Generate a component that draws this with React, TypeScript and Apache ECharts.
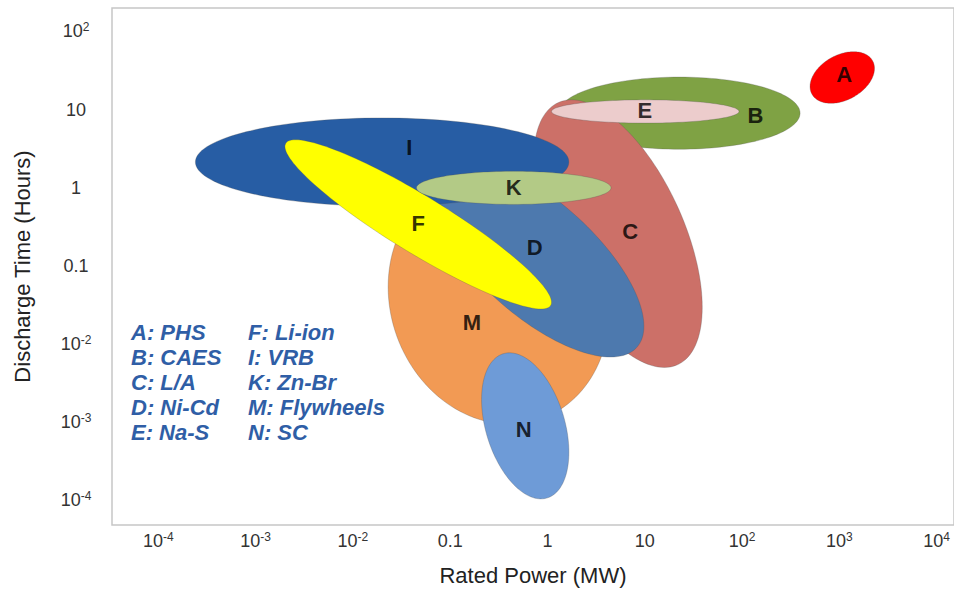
import React, { useEffect, useRef } from "react";
import * as echarts from "echarts";

// Technologies (A..N) and their ranges: rated power (MW) and discharge time (hours)
const techCodes = ["A", "B", "C", "D", "E", "F", "I", "K", "M", "N"];
const techNames = ["PHS", "CAES", "L/A", "Ni-Cd", "Na-S", "Li-ion", "VRB", "Zn-Br", "Flywheels", "SC"];
const powerMinMW = [500, 1.3, 0.72, 0.06, 1.1, 0.002, 0.00024, 0.045, 0.023, 0.21];
const powerMaxMW = [2300, 395, 39, 9.8, 93, 1.1, 1.66, 4.5, 4.3, 1.66];
const timeMinH = [12, 3.1, 0.005, 0.0068, 6.7, 0.028, 0.58, 0.61, 0.00094, 0.000104];
const timeMaxH = [55, 26, 13.3, 2.4, 13.3, 4.1, 7.8, 1.62, 1.47, 0.0077];
// correlation between log power and log time inside each region (ellipse tilt)
const tilt = [0.35, 0, -0.55, -0.69, 0, -0.92, 0, 0, -0.1, -0.36];
const techColors = ["#FF0000", "#7FA244", "#CC7068", "#4D79AE", "#ECCCCC", "#FFFF00", "#275DA4", "#B3CA86", "#F29A54", "#6E9BD7"];
const labelPowerMW = [1125, 137, 7.1, 0.74, 10, 0.047, 0.038, 0.45, 0.167, 0.57];
const labelTimeH = [27.7, 8.3, 0.277, 0.171, 9.6, 0.347, 3.24, 1, 0.019, 0.00081];
const drawOrder = ["B", "C", "M", "D", "I", "F", "K", "E", "N", "A"];

const xTickExponents = [-4, -3, -2, -1, 0, 1, 2, 3, 4];
const yTickExponents = [-4, -3, -2, -1, 0, 1, 2];
const xLogMin = -4.477;
const xLogMax = 4.179;
const yLogMin = -4.317;
const yLogMax = 2.299;

const FONT = "'Liberation Sans', Arial, Helvetica, sans-serif";

function tickFormatter(v: number): string {
  const e = Math.round(v);
  if (e === -1) return "{b|0.1}";
  if (e === 0) return "{b|1}";
  if (e === 1) return "{b|10}";
  return "{b|10}{s|" + e + "}";
}

const richLabel = {
  b: { fontSize: 18, lineHeight: 20, color: "#333", fontFamily: FONT },
  s: { fontSize: 12, lineHeight: 12, color: "#333", fontFamily: FONT, verticalAlign: "top" },
};

export default function App() {
  const ref = useRef<HTMLDivElement>(null);
  useEffect(() => {
    if (!ref.current) return;
    const chart = echarts.init(ref.current, null, { renderer: "svg" });

    const legendGraphics: any[] = [];
    techCodes.forEach((c, i) => {
      const col = i < 5 ? 0 : 1;
      const row = i % 5;
      legendGraphics.push({
        type: "text",
        left: col === 0 ? 131 : 248,
        top: 321 + row * 25,
        style: {
          text: c + ": " + techNames[i],
          fill: "#2F5EA6",
          font: "italic bold 22px " + FONT,
        },
        silent: true,
      });
    });

    chart.setOption({
      animation: false,
      backgroundColor: "#ffffff",
      grid: {
        left: 112,
        right: -2,
        top: 8,
        bottom: 65,
        show: true,
        borderColor: "#C6C6C6",
        borderWidth: 1.5,
      },
      xAxis: {
        type: "value",
        min: xLogMin,
        max: xLogMax,
        name: "Rated Power (MW)",
        nameLocation: "middle",
        nameGap: 39,
        nameTextStyle: { fontSize: 22, color: "#222", fontFamily: FONT },
        axisLine: { show: false },
        axisTick: { show: false },
        splitLine: { show: false },
        axisLabel: {
          customValues: xTickExponents,
          formatter: tickFormatter,
          margin: 6,
          rich: richLabel,
        },
      },
      yAxis: {
        type: "value",
        min: yLogMin,
        max: yLogMax,
        name: "Discharge Time (Hours)",
        nameLocation: "middle",
        nameGap: 79,
        nameTextStyle: { fontSize: 22, color: "#222", fontFamily: FONT },
        axisLine: { show: false },
        axisTick: { show: false },
        splitLine: { show: false },
        axisLabel: {
          customValues: yTickExponents,
          formatter: tickFormatter,
          margin: 36,
          align: "center",
          rich: richLabel,
        },
      },
      graphic: legendGraphics,
      series: [
        {
          type: "custom",
          silent: true,
          data: drawOrder.map((c) => [techCodes.indexOf(c)]),
          renderItem: (params: any, api: any) => {
            const i = api.value(0);
            const x0 = Math.log10(powerMinMW[i]);
            const x1 = Math.log10(powerMaxMW[i]);
            const y0 = Math.log10(timeMinH[i]);
            const y1 = Math.log10(timeMaxH[i]);
            const cx = (x0 + x1) / 2;
            const cy = (y0 + y1) / 2;
            const a = (x1 - x0) / 2;
            const b = (y1 - y0) / 2;
            const phi = Math.acos(tilt[i]);
            const pts: number[][] = [];
            const n = 140;
            for (let k = 0; k < n; k++) {
              const t = (2 * Math.PI * k) / n;
              pts.push(api.coord([cx + a * Math.cos(t), cy + b * Math.cos(t - phi)]));
            }
            return {
              type: "polygon",
              shape: { points: pts },
              style: { fill: techColors[i], stroke: "rgba(80,80,80,0.35)", lineWidth: 0.8 },
            };
          },
          z: 2,
        },
        {
          type: "scatter",
          silent: true,
          symbolSize: 1,
          itemStyle: { color: "rgba(0,0,0,0)" },
          data: techCodes.map((c, i) => ({
            name: c,
            value: [Math.log10(labelPowerMW[i]), Math.log10(labelTimeH[i])],
          })),
          label: {
            show: true,
            position: "inside",
            formatter: "{b}",
            fontSize: 22,
            fontWeight: "bold",
            color: "#000",
            fontFamily: FONT,
          },
          z: 5,
        },
      ],
    });
    return () => chart.dispose();
  }, []);
  return <div ref={ref} style={{ position: "absolute", left: 0, top: 0, width: 954, height: 591 }} />;
}
